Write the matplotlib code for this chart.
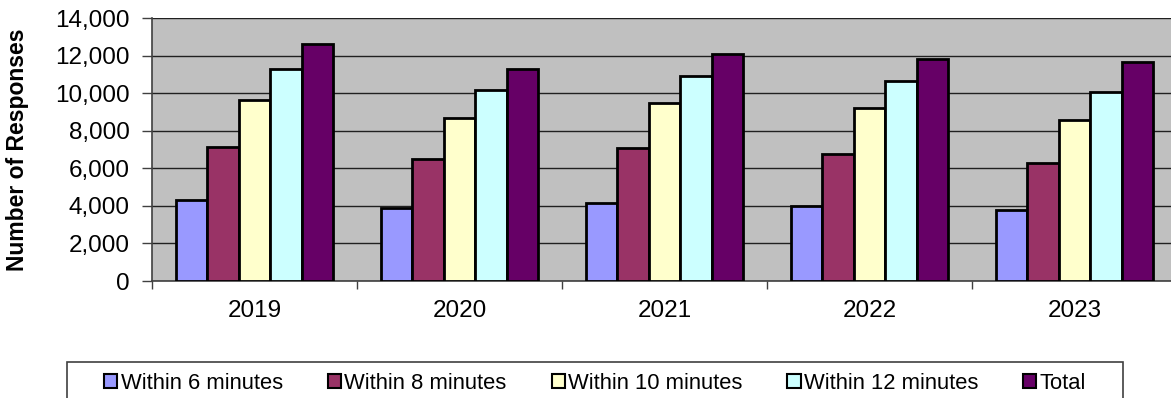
import matplotlib.pyplot as plt
from matplotlib.patches import Patch, Rectangle
from matplotlib.ticker import FuncFormatter
import numpy as np

plt.rcParams['font.family'] = ['Liberation Sans', 'DejaVu Sans']

# data
years = ['2019', '2020', '2021', '2022', '2023']
within_6 = [4300, 3870, 4130, 4010, 3780]
within_8 = [7140, 6520, 7060, 6740, 6290]
within_10 = [9630, 8690, 9500, 9220, 8560]
within_12 = [11260, 10160, 10920, 10620, 10070]
total = [12590, 11310, 12110, 11810, 11670]

series = [within_6, within_8, within_10, within_12, total]
labels = ['Within 6 minutes', 'Within 8 minutes', 'Within 10 minutes',
          'Within 12 minutes', 'Total']
colors = ['#9999FF', '#993366', '#FFFFCC', '#CCFFFF', '#660066']

W, H = 1171, 398
fig = plt.figure(figsize=(W / 100, H / 100), dpi=100)
ax = fig.add_axes([152 / W, 1 - 281 / H, (1177 - 152) / W, (281 - 18) / H])
ax.set_facecolor('#C0C0C0')

x = np.arange(len(years))
bw = 1 / 6.5  # excel gap width 150%
for i, (vals, c) in enumerate(zip(series, colors)):
    ax.bar(x + (i - 2) * bw, vals, bw, color=c, edgecolor='black',
           linewidth=2.0, zorder=3)

ax.set_xlim(-0.5, len(years) - 0.5)
ax.set_ylim(0, 14000)
ax.set_yticks(range(0, 14001, 2000))
ax.yaxis.set_major_formatter(FuncFormatter(lambda v, p: f'{int(v):,}'))
ax.grid(axis='y', color='#202020', linewidth=1.0, zorder=1)
ax.set_axisbelow(True)

ax.set_xticks(x)
ax.set_xticklabels(years)
ax.set_xticks(np.arange(-0.5, len(years)), minor=True)
ax.tick_params(axis='x', which='major', length=0, pad=14, labelsize=17.5)
ax.tick_params(axis='x', which='minor', length=6, width=1, color='#404040',
               direction='out')
ax.tick_params(axis='y', length=7, width=1, color='#404040', pad=9,
               labelsize=17.5)

for s in ['top', 'right']:
    ax.spines[s].set_visible(False)
ax.spines['left'].set_color('#404040')
ax.spines['left'].set_linewidth(1.2)
ax.spines['bottom'].set_color('#404040')
ax.spines['bottom'].set_linewidth(1.2)

ax.set_ylabel('Number of Responses', fontsize=16.5, fontweight='bold')
ax.yaxis.set_label_coords(-123 / (1177 - 152), 0.5)

# legend without its own frame, box drawn around it like excel does
handles = [Patch(facecolor=c, edgecolor='black', linewidth=1.5) for c in colors]
leg = fig.legend(handles, labels, loc='upper right', ncol=5,
                 bbox_to_anchor=(1086 / W, 1 - 373 / H),
                 fontsize=15.8, frameon=False,
                 handlelength=0.6, handleheight=0.6, handletextpad=0.15,
                 columnspacing=2.05, borderpad=0, borderaxespad=0)
fig.canvas.draw()
bb = leg.get_window_extent()
x0 = bb.x0 - 37
fig.patches.append(Rectangle((x0 / W, -0.05), (1123 - x0) / W, 1.05 - 362 / H,
                             transform=fig.transFigure, facecolor='none',
                             edgecolor='#404040', linewidth=1.2))

fig.savefig('out.png', dpi=100)
